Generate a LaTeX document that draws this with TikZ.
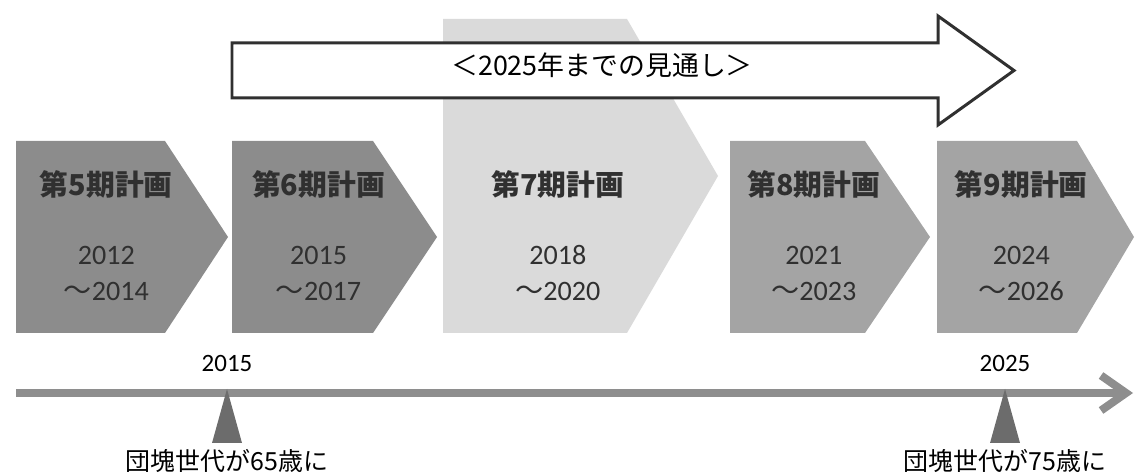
\documentclass[tikz,border=0pt]{standalone}
\usepackage{fontspec}
\setmainfont{Carlito}
\newfontfamily\jp{Noto Sans CJK JP}
\usetikzlibrary{arrows.meta}
\definecolor{darkplan}{HTML}{8C8C8C}
\definecolor{midplan}{HTML}{A4A4A4}
\definecolor{lightplan}{HTML}{DADADA}
\definecolor{ink}{HTML}{303030}
\definecolor{axisgray}{HTML}{8E8E8E}
\definecolor{markgray}{HTML}{6C6C6C}
\tikzset{
  title/.style={anchor=base,text=ink,font=\jp\bfseries\fontsize{16.4}{18}\selectfont},
  years/.style={anchor=base,text=ink,font=\fontsize{16}{18}\selectfont},
  yearmark/.style={anchor=base,text=black,font=\fontsize{14.2}{16}\selectfont},
  note/.style={anchor=base,text=black,font=\jp\fontsize{14.2}{16}\selectfont},
  outlook/.style={draw=ink,line width=1.7pt,fill=white}
}

\begin{document}
\begin{tikzpicture}[x=0.02cm,y=-0.02cm]
  \useasboundingbox (0,0) rectangle (1135,475);

  % plan periods
  \foreach \n/\l/\r/\t/\tp/\col/\ya/\yb in {5/16/165/228/141/darkplan/2012/2014,
      6/232/373/437/141/darkplan/2015/2017, 7/443/627/718/19/lightplan/2018/2020,
      8/730/865/930/141/midplan/2021/2023, 9/937/1077/1134/141/midplan/2024/2026}{
    \fill[fill=\col] (\l,\tp) -- (\r,\tp) -- (\t,{(\tp+333)/2}) -- (\r,333) -- (\l,333) -- cycle;
    \node[title] (p\n) at ({(2*\l+\r+\t)/4},196) {第\n 期計画};
    \node[years] (a\n) at ({(2*\l+\r+\t)/4},265) {\ya};
    \node[years] (b\n) at ({(2*\l+\r+\t)/4},301) {{\jp ～}\yb};
  }

  % outlook arrow
  \draw[outlook] (232,43) -- (938,43) -- (938,16) -- (1014,70.5) -- (938,125)
    -- (938,98) -- (232,98) -- cycle;
  \node[anchor=base,font=\jp\fontsize{15.3}{17}\selectfont] (look) at (602,76)
    {＜2025年までの見通し＞};

  % time axis
  \coordinate (start) at (16,393);
  \coordinate (end) at (1133,393);
  \draw[draw=axisgray,line width=0.16cm,-{Straight Barb[length=5mm,width=7mm]}] (start) -- (end);

  \foreach \x/\yr/\age in {227/2015/65, 1005/2025/75}{
    \fill[fill=markgray] (\x,389) -- (\x-15,443) -- (\x+15,443) -- cycle;
    \node[yearmark] (y\yr) at (\x,372) {\yr};
    \node[note] (g\age) at (\x,471) {団塊世代が\age 歳に};
  }
\end{tikzpicture}
\end{document}
